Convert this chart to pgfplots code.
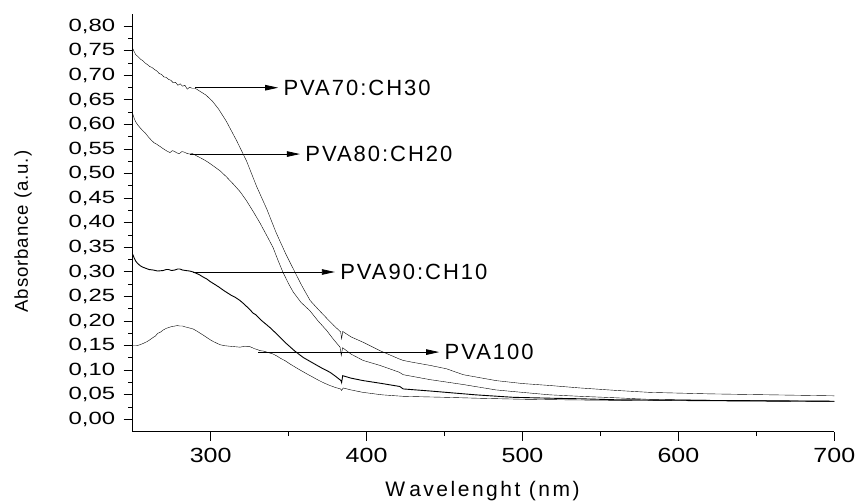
\documentclass[border=0pt]{standalone}
\usepackage{fontspec}
\setmainfont{Liberation Sans}
\newfontfamily\ytickfont{Liberation Sans}[FakeStretch=1.35]
\newfontfamily\xtickfont{Liberation Sans}[FakeStretch=1.22]
\newfontfamily\annofont{Liberation Sans}[LetterSpace=9]
\newfontfamily\xlabfont{Liberation Sans}[LetterSpace=12]
\newfontfamily\ylabfont{Liberation Sans}[LetterSpace=5]
\usepackage{pgfplots}
\pgfplotsset{compat=1.18}
\usetikzlibrary{arrows.meta}

\begin{document}
\begin{tikzpicture}
\begin{axis}[
  at={(0,0)}, anchor=south west,
  scale only axis, width=701.6pt, height=417.7pt,
  xmin=250, xmax=700, ymin=-0.025, ymax=0.825,
  axis lines*=left,
  axis line style={line width=1pt, -},
  xtick={300,400,500,600,700}, minor x tick num=1,
  ytick={0,0.05,0.10,0.15,0.20,0.25,0.30,0.35,0.40,0.45,0.50,0.55,0.60,0.65,0.70,0.75,0.80},
  minor y tick num=1,
  tick align=outside, major tick length=9pt, minor tick length=4.5pt,
  tick style={black, line width=1pt},
  scaled y ticks=false,
  /pgf/number format/assume math mode=true,
  yticklabel style={font=\ytickfont\fontsize{17.7pt}{20pt}\selectfont, xshift=-5pt,
    /pgf/number format/.cd, fixed, fixed zerofill, precision=2, use comma},
  xticklabel style={font=\xtickfont\fontsize{20.5pt}{23pt}\selectfont, yshift=-4pt},
  xlabel={W\kern4pt avelenght (nm)},
  ylabel={Absorbance (a.u.)},
  xlabel style={font=\xlabfont\fontsize{21pt}{24pt}\selectfont,
    at={(axis description cs:0.4986,-0.142)}, anchor=center},
  ylabel style={font=\ylabfont\fontsize{18.6pt}{21pt}\selectfont,
    at={(axis description cs:-0.1564,0.479)}, anchor=center, rotate=0},
  cycle list={{black, no markers, line width=0.9pt}},
  clip=false,
]
% PVA70:CH30
\addplot coordinates {
(250,0.755) (251,0.748) (252,0.742) (253.5,0.738) (255,0.733) (256.5,0.730) (258,0.725)
(259.5,0.722) (261,0.718) (262.5,0.716) (264,0.712) (265.5,0.709) (267,0.704)
(268.5,0.702) (270,0.697) (271.5,0.696) (273,0.692) (274.5,0.690) (276,0.685)
(277.5,0.686) (279,0.680) (280.5,0.683) (282,0.678) (283.5,0.680) (285,0.672)
(286.5,0.676) (288,0.674) (290,0.674) (291.5,0.671) (293,0.668) (297,0.660)
(301,0.648) (305,0.632) (310,0.607) (316.7,0.567) (323,0.526) (329.5,0.474)
(336,0.428) (342,0.380) (348,0.338) (354,0.300) (358.5,0.272) (363.8,0.242)
(369,0.224) (374.4,0.206) (379,0.191) (383.4,0.178) (384,0.164) (384.7,0.179)
(390,0.168) (397.8,0.157) (408.5,0.140) (421,0.123) (423.5,0.120) (430,0.116)
(440.6,0.110) (451.3,0.103) (462,0.091) (483,0.079) (500,0.073) (517.6,0.069)
(537,0.064) (560,0.059) (581.7,0.055) (620,0.052) (660,0.050) (700,0.048)
};
% PVA80:CH20
\addplot coordinates {
(250,0.622) (251,0.612) (252,0.605) (253.3,0.599) (254.6,0.594) (256.3,0.588)
(258,0.583) (260,0.575) (262,0.568) (263.7,0.563) (265.4,0.560) (267.7,0.555)
(270,0.550) (272,0.546) (273.9,0.543) (275.5,0.547) (277,0.545) (278.5,0.542)
(280,0.541) (281.5,0.545) (283,0.544) (285,0.541) (286.7,0.540) (288.3,0.541)
(290,0.538) (293,0.533) (296,0.528) (299,0.522) (302.5,0.514) (306,0.506)
(310,0.494) (314.5,0.479) (319,0.463) (323,0.445) (327.3,0.423) (331.6,0.400)
(336,0.374) (340,0.350) (343.3,0.323) (346.3,0.300) (350,0.276) (353,0.259)
(358,0.238) (363.7,0.221) (369,0.200) (374.4,0.181) (379,0.162) (383,0.147)
(383.8,0.130) (384.6,0.146) (390,0.133) (397.8,0.120) (408.5,0.110) (421,0.096)
(423.5,0.091) (440.6,0.081) (462,0.071) (483,0.060) (500,0.055) (517.6,0.050)
(537,0.047) (560,0.044) (580,0.041) (620,0.039) (660,0.038) (700,0.037)
};
% PVA90:CH10
\addplot coordinates {
(250,0.336) (251,0.328) (252,0.322) (253,0.318) (254.7,0.313) (256.3,0.310)
(258,0.308) (260.5,0.305) (263.2,0.304) (266,0.302) (269.6,0.303) (271.5,0.305)
(273,0.305) (275,0.303) (277,0.304) (278.8,0.306) (280.3,0.306) (282,0.304)
(284,0.303) (286.5,0.302) (288.8,0.300) (291,0.297) (293,0.294) (295,0.290)
(297.4,0.286) (299.5,0.281) (302,0.276) (305,0.270) (308.1,0.263) (310.5,0.258)
(313,0.253) (316,0.248) (318.8,0.242) (321,0.236) (323,0.230) (325,0.224)
(327.3,0.216) (329,0.213) (332,0.203) (335,0.195) (338,0.187) (343,0.172)
(348.7,0.154) (354,0.139) (359.4,0.126) (366,0.114) (371,0.105) (376.5,0.096)
(380,0.088) (383.6,0.079) (384,0.075) (384.7,0.089) (390,0.084) (397.8,0.079)
(410,0.073) (421.3,0.067) (423.5,0.062) (440,0.058) (451.3,0.055) (470,0.050)
(494,0.045) (520,0.043) (537,0.042) (560,0.040) (600,0.039) (650,0.038)
(700,0.037)
};
% PVA100
\addplot coordinates {
(250,0.150) (252.5,0.150) (254.7,0.152) (257,0.155) (259,0.158) (261,0.162)
(263.2,0.167) (264.7,0.170) (266,0.175) (268,0.178) (269.6,0.182) (271.3,0.185)
(273,0.187) (275,0.189) (277,0.190) (278.7,0.191) (280.3,0.190) (282,0.190)
(284,0.188) (286.5,0.186) (288.8,0.184) (291,0.180) (293,0.176) (295,0.172)
(297.4,0.167) (299.7,0.162) (302,0.158) (304,0.155) (306,0.152) (309,0.150)
(312,0.149) (315.5,0.148) (318.8,0.147) (320.5,0.148) (322,0.149) (323.7,0.148)
(325.2,0.148) (326.7,0.146) (328,0.144) (330,0.142) (331.6,0.140) (334,0.139)
(336,0.137) (338,0.135) (340.1,0.133) (342.5,0.129) (345,0.124) (348,0.119)
(350.8,0.113) (356,0.103) (361.5,0.093) (365,0.087) (369,0.080) (372.8,0.074)
(376.5,0.069) (380,0.065) (383.3,0.062) (384,0.059) (385,0.064) (390,0.060)
(397.8,0.055) (410,0.050) (423.5,0.047) (450,0.045) (472.6,0.043) (500,0.041)
(550,0.039) (600,0.038) (650,0.037) (700,0.036)
};
% sample labels with pointer arrows
\begin{scope}[line width=0.8pt, -{Triangle[length=13pt,width=5.5pt]},
  every node/.style={font=\annofont\fontsize{22pt}{24pt}\selectfont, anchor=west, inner sep=0pt, xshift=5pt}]
\draw (axis cs:290,0.675) -- (axis cs:343.3,0.675) node {PVA70:CH30};
\draw (axis cs:286.7,0.540) -- (axis cs:357.3,0.540) node {PVA80:CH20};
\draw (axis cs:288.8,0.300) -- (axis cs:379.7,0.300) node {PVA90:CH10};
\draw (axis cs:330.5,0.137) -- (axis cs:446.6,0.137) node {PVA100};
\end{scope}
\end{axis}
\pgfresetboundingbox
\path[use as bounding box] (-132.7pt,-71.3pt) rectangle (723.3pt,431.7pt);
\end{tikzpicture}
\end{document}
